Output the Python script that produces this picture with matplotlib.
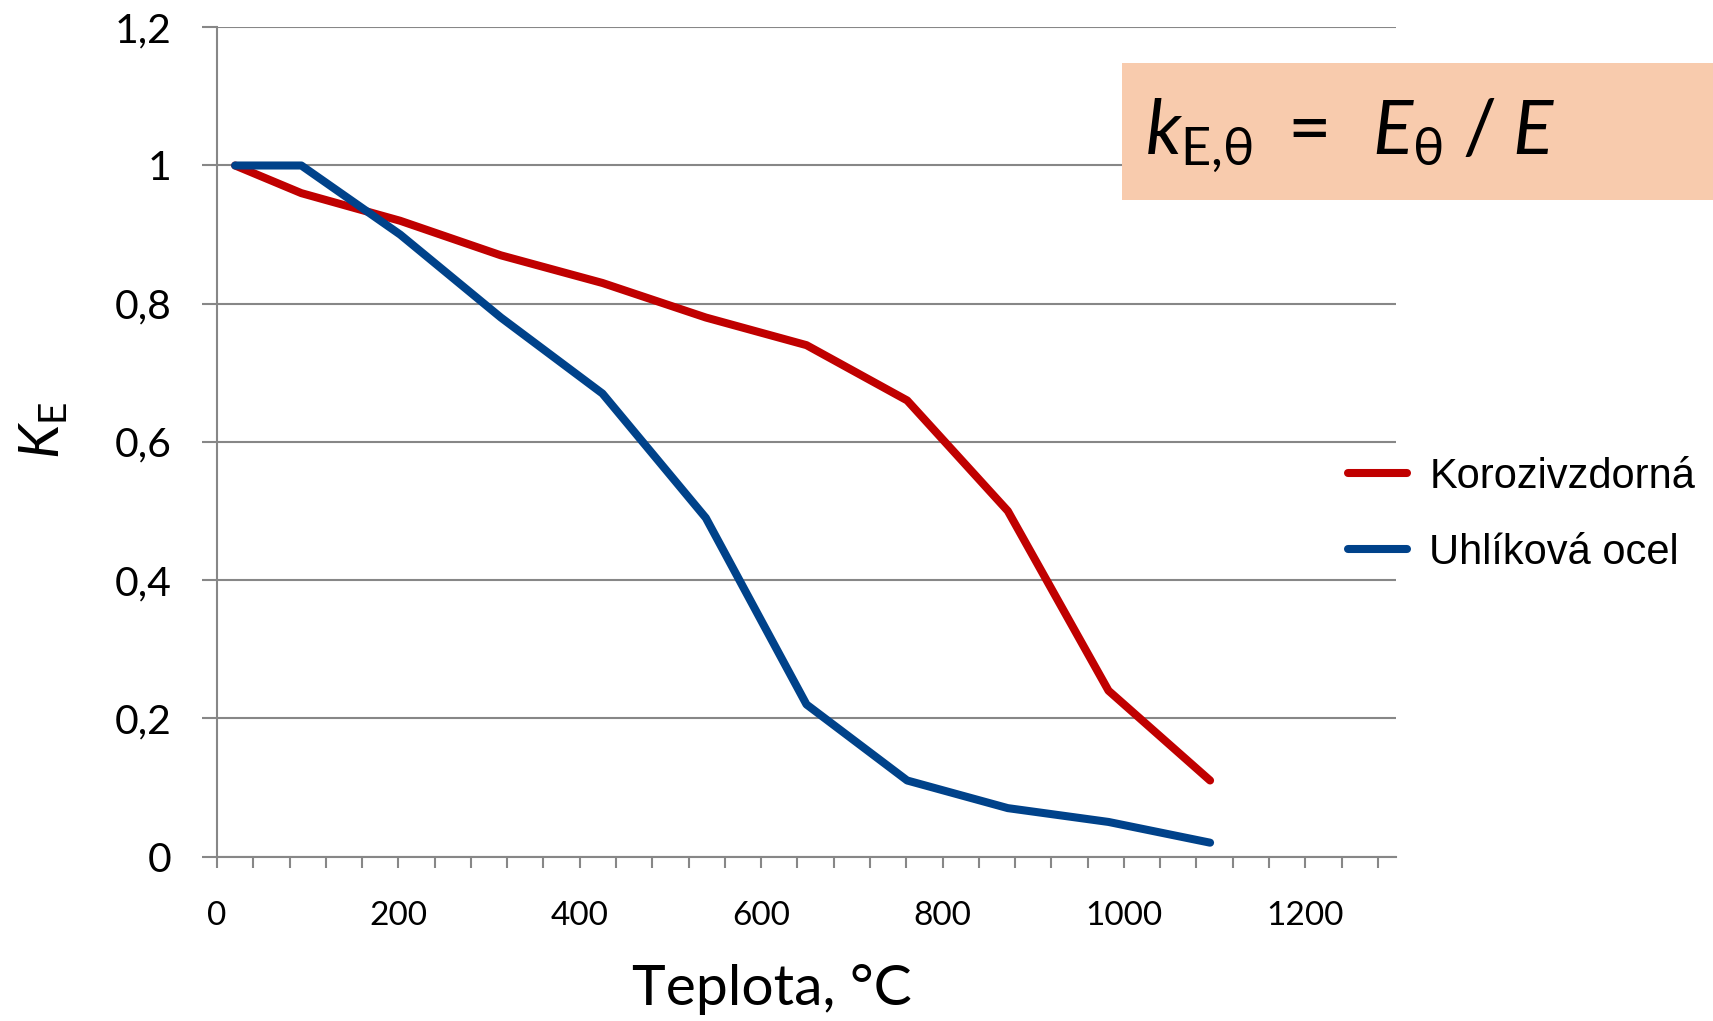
import matplotlib
matplotlib.use("Agg")
import matplotlib.pyplot as plt
from matplotlib.patches import Rectangle
from matplotlib.ticker import FixedLocator, MultipleLocator

# Reduction factor of Young's modulus with temperature
temps = [20, 93, 202, 313, 425, 539, 650, 761, 872, 983, 1095]
ke_stainless = [1.00, 0.96, 0.92, 0.87, 0.83, 0.78, 0.74, 0.66, 0.50, 0.24, 0.11]
ke_carbon = [1.00, 1.00, 0.90, 0.78, 0.67, 0.49, 0.22, 0.11, 0.07, 0.05, 0.02]
series_names = ["Korozivzdorná", "Uhlíková ocel"]
series_colors = ["#C00000", "#00428A"]

x_ticks = [0, 200, 400, 600, 800, 1000, 1200]
x_tick_labels = ["0", "200", "400", "600", "800", "1000", "1200"]
y_ticks = [0, 0.2, 0.4, 0.6, 0.8, 1.0, 1.2]
y_tick_labels = ["0", "0,2", "0,4", "0,6", "0,8", "1", "1,2"]

plt.rcParams["font.family"] = ["Lato", "DejaVu Sans"]
plt.rcParams["mathtext.fontset"] = "custom"
plt.rcParams["mathtext.rm"] = "Lato"
plt.rcParams["mathtext.it"] = "Lato:italic"
plt.rcParams["mathtext.bf"] = "Lato:bold"
plt.rcParams["mathtext.fallback"] = "stix"

W, H = 1713, 1021
fig = plt.figure(figsize=(W / 100, H / 100), dpi=100)
fig.patch.set_facecolor("white")

x0, x1 = 217, 1396
y0, y1 = 856.5, 27.3
ax = fig.add_axes([x0 / W, (H - y0) / H, (x1 - x0) / W, (y0 - y1) / H])
ax.set_xlim(0, 1300)
ax.set_ylim(0, 1.2)

grey = "#878787"
for side in ("top", "right"):
    ax.spines[side].set_visible(False)
for side in ("left", "bottom"):
    ax.spines[side].set_color(grey)
    ax.spines[side].set_linewidth(1.5)

ax.yaxis.set_major_locator(FixedLocator(y_ticks))
ax.set_yticklabels(y_tick_labels)
ax.xaxis.set_major_locator(FixedLocator(x_ticks))
ax.set_xticklabels(x_tick_labels)
ax.xaxis.set_minor_locator(MultipleLocator(40))

ax.grid(axis="y", color=grey, linewidth=1.5)
ax.set_axisbelow(True)
ax.tick_params(axis="y", which="major", direction="out", length=11, width=1.5,
               color=grey, pad=22, labelsize=29.5, labelcolor="black")
ax.tick_params(axis="x", which="both", direction="out", length=8, width=1.5,
               color=grey, pad=24, labelsize=24, labelcolor="black")

for vals, name, col in zip([ke_stainless, ke_carbon], series_names, series_colors):
    ax.plot(temps, vals, color=col, linewidth=5.8, label=name,
            solid_capstyle="round", solid_joinstyle="round", clip_on=False, zorder=3)

leg = ax.legend(loc="center left", bbox_to_anchor=(1348 / W, (H - 515) / H),
                bbox_transform=fig.transFigure, frameon=False,
                prop={"family": "Liberation Sans", "size": 30},
                handlelength=1.42, handletextpad=0.53, labelspacing=0.86,
                borderpad=0, borderaxespad=0)

# axis titles
fig.text(772 / W, (H - 989) / H, "Teplota, °C", fontsize=41,
         ha="center", va="center")
fig.text(44 / W, (H - 431) / H, r"$K_{\mathrm{E}}$", fontsize=40,
         rotation=90, ha="center", va="center")

# formula box
fig.add_artist(Rectangle((1122 / W, (H - 200) / H), (W - 1122) / W, 137 / H,
                         transform=fig.transFigure, facecolor="#F8CBAD",
                         edgecolor="none", zorder=5))
fig.text(1145 / W, (H - 153) / H,
         r"$k_{\mathrm{E{,}\theta}}\ =\ \,E_{\mathrm{\theta}}\;/\;E$",
         fontsize=54, ha="left", va="baseline", zorder=6)

fig.savefig("out.png", dpi=100)
